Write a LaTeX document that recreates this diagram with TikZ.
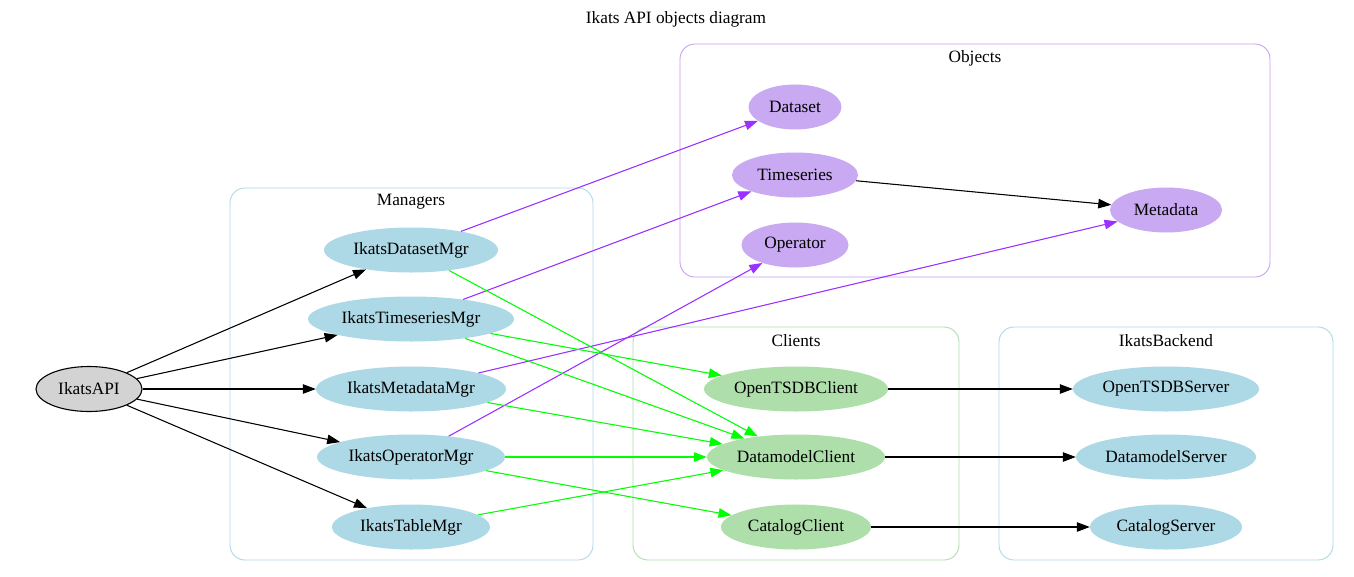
\documentclass[tikz,border=0pt]{standalone}
\usepackage{fontspec}
\setmainfont{Liberation Serif}
\usetikzlibrary{shapes.geometric,arrows.meta}
\definecolor{lblue}{HTML}{ADD8E6}
\definecolor{lgreen}{HTML}{AEDFAA}
\definecolor{lpurple}{HTML}{C9A9F2}
\definecolor{cpurple}{HTML}{C8A0F0}
\definecolor{epurple}{HTML}{9B30FF}
\definecolor{egreen}{HTML}{00FF00}
\definecolor{lgray}{HTML}{D3D3D3}
\tikzset{
  gv/.style={ellipse, inner sep=0pt, minimum height=45pt, font=\fontsize{17.3}{20}\selectfont},
  mgr/.style={gv, fill=lblue},
  srv/.style={gv, fill=lblue},
  cli/.style={gv, fill=lgreen},
  obj/.style={gv, fill=lpurple},
  api/.style={gv, fill=lgray, draw=black, line width=1.1pt},
  clus/.style={rounded corners=15pt, line width=0.9pt},
  lbl/.style={font=\fontsize{17.3}{20}\selectfont},
  edge/.style={line width=1.05pt, -{Triangle[length=13pt,width=9.5pt]}},
  eb/.style={edge, draw=black, fill=black},
  ep/.style={edge, draw=epurple, fill=epurple},
  eg/.style={edge, draw=egreen, fill=egreen},
}
\begin{document}
\begin{tikzpicture}[x=1pt,y=-1pt]
\useasboundingbox[fill=white] (0,0) rectangle (1354,576);
% clusters
\draw[clus, draw=lblue] (230,188) rectangle (593,560);
\draw[clus, draw=cpurple] (680,44) rectangle (1270,277);
\draw[clus, draw=lgreen] (633,327) rectangle (959,560);
\draw[clus, draw=lblue] (999,327) rectangle (1333,560);
\node[lbl] (title) at (676,19) {Ikats API objects diagram};
\node[lbl] (lmgr) at (411,202) {Managers};
\node[lbl] (lobj) at (975,58) {Objects};
\node[lbl] (lcli) at (796,341) {Clients};
\node[lbl] (lbck) at (1166,341) {IkatsBackend};
% nodes
\node[api, minimum width=106pt] (api) at (89,389) {IkatsAPI};
\node[mgr, minimum width=174pt] (dsm) at (411,250) {IkatsDatasetMgr};
\node[mgr, minimum width=206pt] (tsm) at (411,319) {IkatsTimeseriesMgr};
\node[mgr, minimum width=190pt] (mdm) at (411,389) {IkatsMetadataMgr};
\node[mgr, minimum width=188pt] (opm) at (411,457) {IkatsOperatorMgr};
\node[mgr, minimum width=158pt] (tbm) at (411,527) {IkatsTableMgr};
\node[obj, minimum width=93pt] (ds) at (795,107) {Dataset};
\node[obj, minimum width=126pt] (ts) at (795,175) {Timeseries};
\node[obj, minimum width=107pt] (op) at (795,245) {Operator};
\node[obj, minimum width=112pt] (md) at (1166,210) {Metadata};
\node[cli, minimum width=184pt] (otc) at (796,389) {OpenTSDBClient};
\node[cli, minimum width=178pt] (dmc) at (796,457) {DatamodelClient};
\node[cli, minimum width=150pt] (ctc) at (796,527) {CatalogClient};
\node[srv, minimum width=186pt] (ots) at (1166,389) {OpenTSDBServer};
\node[srv, minimum width=180pt] (dms) at (1166,457) {DatamodelServer};
\node[srv, minimum width=152pt] (cts) at (1166,527) {CatalogServer};
% edges
\draw[eb] (api) -- (dsm);
\draw[eb] (api) -- (tsm);
\draw[eb] (api) -- (mdm);
\draw[eb] (api) -- (opm);
\draw[eb] (api) -- (tbm);
\draw[ep] (dsm) -- (ds);
\draw[ep] (tsm) -- (ts);
\draw[ep] (mdm) -- (md);
\draw[ep] (opm) -- (op);
\draw[eg] (dsm) -- (dmc);
\draw[eg] (tsm) -- (otc);
\draw[eg] (tsm) -- (dmc);
\draw[eg] (mdm) -- (dmc);
\draw[eg] (opm) -- (dmc);
\draw[eg] (opm) -- (ctc);
\draw[eg] (tbm) -- (dmc);
\draw[eb] (ts) -- (md);
\draw[eb] (otc) -- (ots);
\draw[eb] (dmc) -- (dms);
\draw[eb] (ctc) -- (cts);
\end{tikzpicture}
\end{document}
